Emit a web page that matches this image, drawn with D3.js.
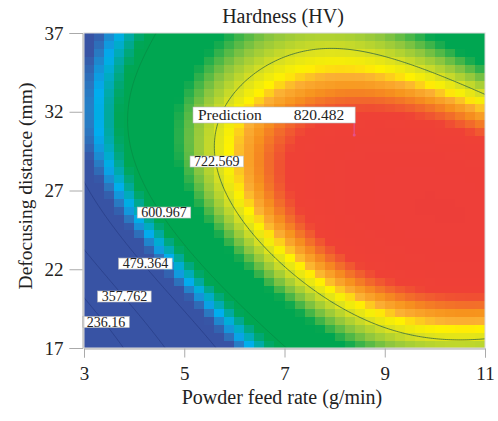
<!DOCTYPE html>
<html><head><meta charset="utf-8">
<script src="https://cdn.jsdelivr.net/npm/d3@7"></script>
<style>body{margin:0;background:#fff;} svg{display:block;} text{font-family:"Liberation Serif","Times New Roman",serif;}</style>
</head><body><svg id="c" width="498" height="421"></svg>
<script>
// ---- data ----
const xTicks=[3,5,7,9,11];
const yTicks=[17,22,27,32,37];
const xRange=[3,11];            // Powder feed rate (g/min)
const yRange=[17,37];           // Defocusing distance (mm)
const contourLevels=[236.16,357.762,479.364,600.967,722.569];
const predictionPoint=[8.39,30.52];
const predictionValue=820.482;
// response-surface model in coded units A=(x-7)/4, B=(y-27)/10
const modelTerms=["1","A","B","AB","A2","B2","A2B","AB2","A3","B3","A4","A3B","A2B2","AB3","B4"];
const modelCoefficients=[786.48,172.76,49.91,-133.81,-136.36,-180.47,23.09,-2.92,11.91,1.50,2.33,-11.99,-37.24,24.65,43.73];

// ---- model ----
const termValues=(A,B)=>[1,A,B,A*B,A*A,B*B,A*A*B,A*B*B,A*A*A,B*B*B,A**4,A**3*B,A*A*B*B,A*B**3,B**4];
const model=(x,y)=>{const A=(x-7)/4,B=(y-27)/10;return d3.sum(termValues(A,B),(t,i)=>t*modelCoefficients[i]);};

const svg=d3.select("#c");
const L=84,R=485,T=33,Bm=348;
const xs=d3.scaleLinear().domain(xRange).range([L,R]);
const ys=d3.scaleLinear().domain(yRange).range([Bm,T]);
const color=d3.scaleLinear()
  .domain([514,530,549,569,588,670,700,723,740,752,765,778,792,900])
  .range(["#3853a4","#2b78c0","#00aeef","#00a99d","#00a651","#00a651","#8dc63f","#d7df23","#fff200","#fbb034","#f7941d","#f26a2b","#ef4136","#ec3c3c"])
  .clamp(true);

// heat-map cells
const nc=40, dxc=(xRange[1]-xRange[0])/nc, dyc=(yRange[1]-yRange[0])/nc;
const cells=[];
for(let i=0;i<nc;i++)for(let j=0;j<nc;j++){const x=xRange[0]+i*dxc,y=yRange[0]+j*dyc;cells.push({x,y,v:model(x+dxc/2,y+dyc/2)});}
svg.append("clipPath").attr("id","clip").append("rect").attr("x",L).attr("y",T).attr("width",R-L).attr("height",Bm-T);
const g=svg.append("g").attr("clip-path","url(#clip)");
g.selectAll("rect.cell").data(cells).join("rect").attr("class","cell")
  .attr("x",d=>xs(d.x)).attr("y",d=>ys(d.y+dyc)).attr("width",xs(dxc)-xs(0)+0.6).attr("height",ys(0)-ys(dyc)+0.6)
  .attr("fill",d=>color(d.v)).attr("shape-rendering","crispEdges");

// contour lines
const gx0=2.6,gx1=11.4,gy0=16,gy1=38,gn=220;
const vals=new Array(gn*gn);
for(let j=0;j<gn;j++)for(let i=0;i<gn;i++)vals[j*gn+i]=model(gx0+i*(gx1-gx0)/(gn-1),gy0+j*(gy1-gy0)/(gn-1));
const cont=d3.contours().size([gn,gn]).thresholds(contourLevels)(vals);
const proj=d3.geoTransform({point(px,py){this.stream.point(xs(gx0+(px-0.5)*(gx1-gx0)/(gn-1)),ys(gy0+(py-0.5)*(gy1-gy0)/(gn-1)));}});
const path=d3.geoPath(proj);
const cStroke=["#22357a","#22357a","#22357a","#0a7a3c","#235a44"];
const cOp=[0.6,0.6,0.6,0.5,0.8];
g.selectAll("path.ct").data(cont).join("path").attr("class","ct").attr("d",path)
  .attr("fill","none").attr("stroke",(d,i)=>cStroke[i]).attr("stroke-opacity",(d,i)=>cOp[i]).attr("stroke-width",0.9);

// contour labels
const labelPos=[[3.439,18.65],[3.806,20.27],[4.225,22.36],[4.596,25.60],[5.649,28.84]];
const fmt=v=>String(+v.toFixed(3));
contourLevels.forEach((lv,i)=>{
  const cx=xs(labelPos[i][0]),cy=ys(labelPos[i][1]);
  const t=svg.append("text").attr("x",cx).attr("y",cy+4.6).attr("text-anchor","middle").attr("font-size",14).attr("fill","#222").text(fmt(lv));
  const w=t.node().getComputedTextLength()+8;
  svg.insert("rect",()=>t.node()).attr("x",cx-w/2).attr("y",cy-5.5).attr("width",w).attr("height",11).attr("fill","#fff").attr("stroke","#bbb").attr("stroke-width",0.6);
});

// prediction flag
const px=xs(predictionPoint[0]),py=ys(predictionPoint[1]);
svg.append("line").attr("x1",px).attr("x2",px).attr("y1",py).attr("y2",123).attr("stroke","#e6508a").attr("stroke-width",1.2);
svg.append("circle").attr("cx",px).attr("cy",py).attr("r",1.5).attr("fill","#e6508a");
svg.append("rect").attr("x",193).attr("y",107).attr("width",px+1-193).attr("height",16).attr("fill","#fff").attr("stroke","#bbb").attr("stroke-width",0.6);
svg.append("text").attr("x",198).attr("y",120).attr("font-size",15.5).attr("fill","#222").text("Prediction");
svg.append("text").attr("x",px-10).attr("y",120).attr("font-size",15.5).attr("text-anchor","end").attr("fill","#222").text(fmt(predictionValue));

// frame and axes
svg.append("rect").attr("x",L).attr("y",T).attr("width",R-L).attr("height",Bm-T).attr("fill","none").attr("stroke","#d8d8d8").attr("stroke-width",1);
const ax=svg.append("g").attr("transform",`translate(0,${Bm+0.5})`).call(d3.axisBottom(xs).tickValues(xTicks).tickSize(9).tickPadding(6).tickFormat(d3.format("d")));
const ay=svg.append("g").attr("transform",`translate(${L-1.5},0)`).call(d3.axisLeft(ys).tickValues(yTicks).tickSize(13).tickPadding(6).tickFormat(d3.format("d")));
[ax,ay].forEach(a=>{a.selectAll("path,line").attr("stroke","#aaa");a.selectAll("text").attr("font-size",19).attr("fill","#222").attr("font-family","Liberation Serif, serif");});
ax.selectAll("text").attr("dy","0.85em");

svg.append("text").attr("x",283).attr("y",23).attr("text-anchor","middle").attr("font-size",20).attr("fill","#222").text("Hardness (HV)");
svg.append("text").attr("x",282).attr("y",404).attr("text-anchor","middle").attr("font-size",20).attr("fill","#222").text("Powder feed rate (g/min)");
svg.append("text").attr("transform","translate(32,186) rotate(-90)").attr("text-anchor","middle").attr("font-size",19.5).attr("fill","#222").text("Defocusing distance (mm)");
</script></body></html>
